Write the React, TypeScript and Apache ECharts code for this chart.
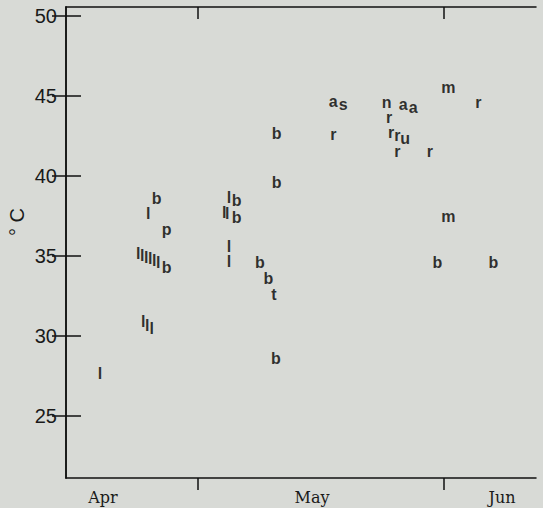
import React, { useEffect, useRef } from "react";
import * as echarts from "echarts";

// x values: days after 31 March (chart's own day scale), y values: °C
const letters = [
  "b", "l", "p",
  "l", "l", "l", "l", "l", "l", "b",
  "l", "l", "l",
  "l",
  "b", "b", "l", "b", "l", "l", "b", "l", "l", "b", "b", "t", "b",
  "a", "s", "r",
  "n", "a", "a", "r", "r", "r", "u", "r", "r",
  "m", "r", "m", "b", "b",
];
const xDays = [
  11.39, 10.33, 12.64,
  9.08, 9.58, 10.08, 10.58, 11.08, 11.59, 12.64,
  9.7, 10.21, 10.76,
  4.27,
  26.45, 26.45, 20.46, 21.43, 19.87, 20.25, 21.43, 20.46, 20.46, 24.35, 25.4, 26.11, 26.36,
  33.55, 34.81, 33.55,
  40.26, 42.34, 43.6, 40.55, 40.8, 41.59, 42.56, 41.59, 45.69,
  47.99, 51.76, 47.99, 46.61, 53.64,
];
const tempC = [
  38.59, 37.66, 36.66,
  35.14, 35.03, 34.93, 34.82, 34.72, 34.62, 34.26,
  30.92, 30.67, 30.47,
  27.64,
  42.66, 39.57, 38.64, 38.47, 37.7, 37.64, 37.42, 35.61, 34.64, 34.57, 33.59, 32.59, 28.59,
  44.67, 44.47, 42.59,
  44.57, 44.47, 44.26, 43.64, 42.7, 42.55, 42.34, 41.55, 41.55,
  45.55, 44.57, 37.49, 34.57, 34.57,
];

const monthLabels = ["Apr", "May", "Jun"];
const monthLabelPos = [4.64, 30.88, 54.73];
const monthTickPos = [16.57, 47.45];
const yTicks = [25, 30, 35, 40, 45, 50];

export default function App() {
  const ref = useRef<HTMLDivElement>(null);
  useEffect(() => {
    if (!ref.current) return;
    const chart = echarts.init(ref.current, null, { renderer: "svg" });
    const data = letters.map((l, i) => [xDays[i], tempC[i], l]);
    const axisLine = { show: true, lineStyle: { color: "#111", width: 1.5 } };
    chart.setOption({
      animation: false,
      backgroundColor: "#d8dad6",
      grid: { left: 66, right: 7, top: 7, bottom: 30 },
      xAxis: [
        {
          type: "value",
          position: "bottom",
          min: 0,
          max: 59,
          axisLine,
          splitLine: { show: false },
          axisTick: {
            show: true,
            inside: false,
            length: 12,
            customValues: monthTickPos,
            lineStyle: { color: "#111", width: 1.5 },
          },
          axisLabel: {
            show: true,
            customValues: monthLabelPos,
            formatter: (v: number) => {
              const i = monthLabelPos.findIndex((p) => Math.abs(p - v) < 0.01);
              return i >= 0 ? monthLabels[i] : "";
            },
            fontFamily: "DejaVu Serif",
            fontSize: 16,
            color: "#1a1a1a",
            margin: 11,
          },
        },
        {
          type: "value",
          position: "top",
          min: 0,
          max: 59,
          axisLine,
          splitLine: { show: false },
          axisTick: {
            show: true,
            inside: true,
            length: 12,
            customValues: monthTickPos,
            lineStyle: { color: "#111", width: 1.5 },
          },
          axisLabel: { show: false },
        },
      ],
      yAxis: [
        {
          type: "value",
          position: "left",
          min: 21.125,
          max: 50.56,
          axisLine,
          splitLine: { show: false },
          axisTick: {
            show: true,
            inside: true,
            length: 15,
            customValues: yTicks,
            lineStyle: { color: "#111", width: 1.5 },
          },
          axisLabel: {
            show: true,
            customValues: yTicks,
            fontFamily: "Liberation Sans",
            fontSize: 20,
            color: "#1a1a1a",
            margin: 9,
          },
        },
        {
          type: "value",
          position: "right",
          min: 21.125,
          max: 50.56,
          axisLine,
          splitLine: { show: false },
          axisTick: {
            show: true,
            inside: true,
            length: 14,
            customValues: yTicks,
            lineStyle: { color: "#111", width: 1.5 },
          },
          axisLabel: { show: false },
        },
      ],
      graphic: [
        {
          type: "text",
          x: 17,
          y: 222,
          rotation: Math.PI / 2,
          style: {
            text: "° C",
            fontFamily: "Liberation Sans",
            fontSize: 20,
            fill: "#1a1a1a",
            align: "center",
            verticalAlign: "middle",
          },
        },
      ],
      series: [
        {
          type: "scatter",
          xAxisIndex: 0,
          yAxisIndex: 0,
          symbol: "circle",
          symbolSize: 1,
          itemStyle: { color: "rgba(0,0,0,0)" },
          data,
          label: {
            show: true,
            position: "inside",
            formatter: (p: any) => p.value[2],
            fontFamily: "Liberation Sans",
            fontWeight: "bold",
            fontSize: 16,
            lineHeight: 13,
            color: "#000",
            textBorderWidth: 0,
            textBorderColor: "transparent",
          },
        },
      ],
    });
    return () => chart.dispose();
  }, []);
  return (
    <div
      ref={ref}
      style={{ position: "fixed", left: 0, top: 0, width: 543, height: 508 }}
    />
  );
}
